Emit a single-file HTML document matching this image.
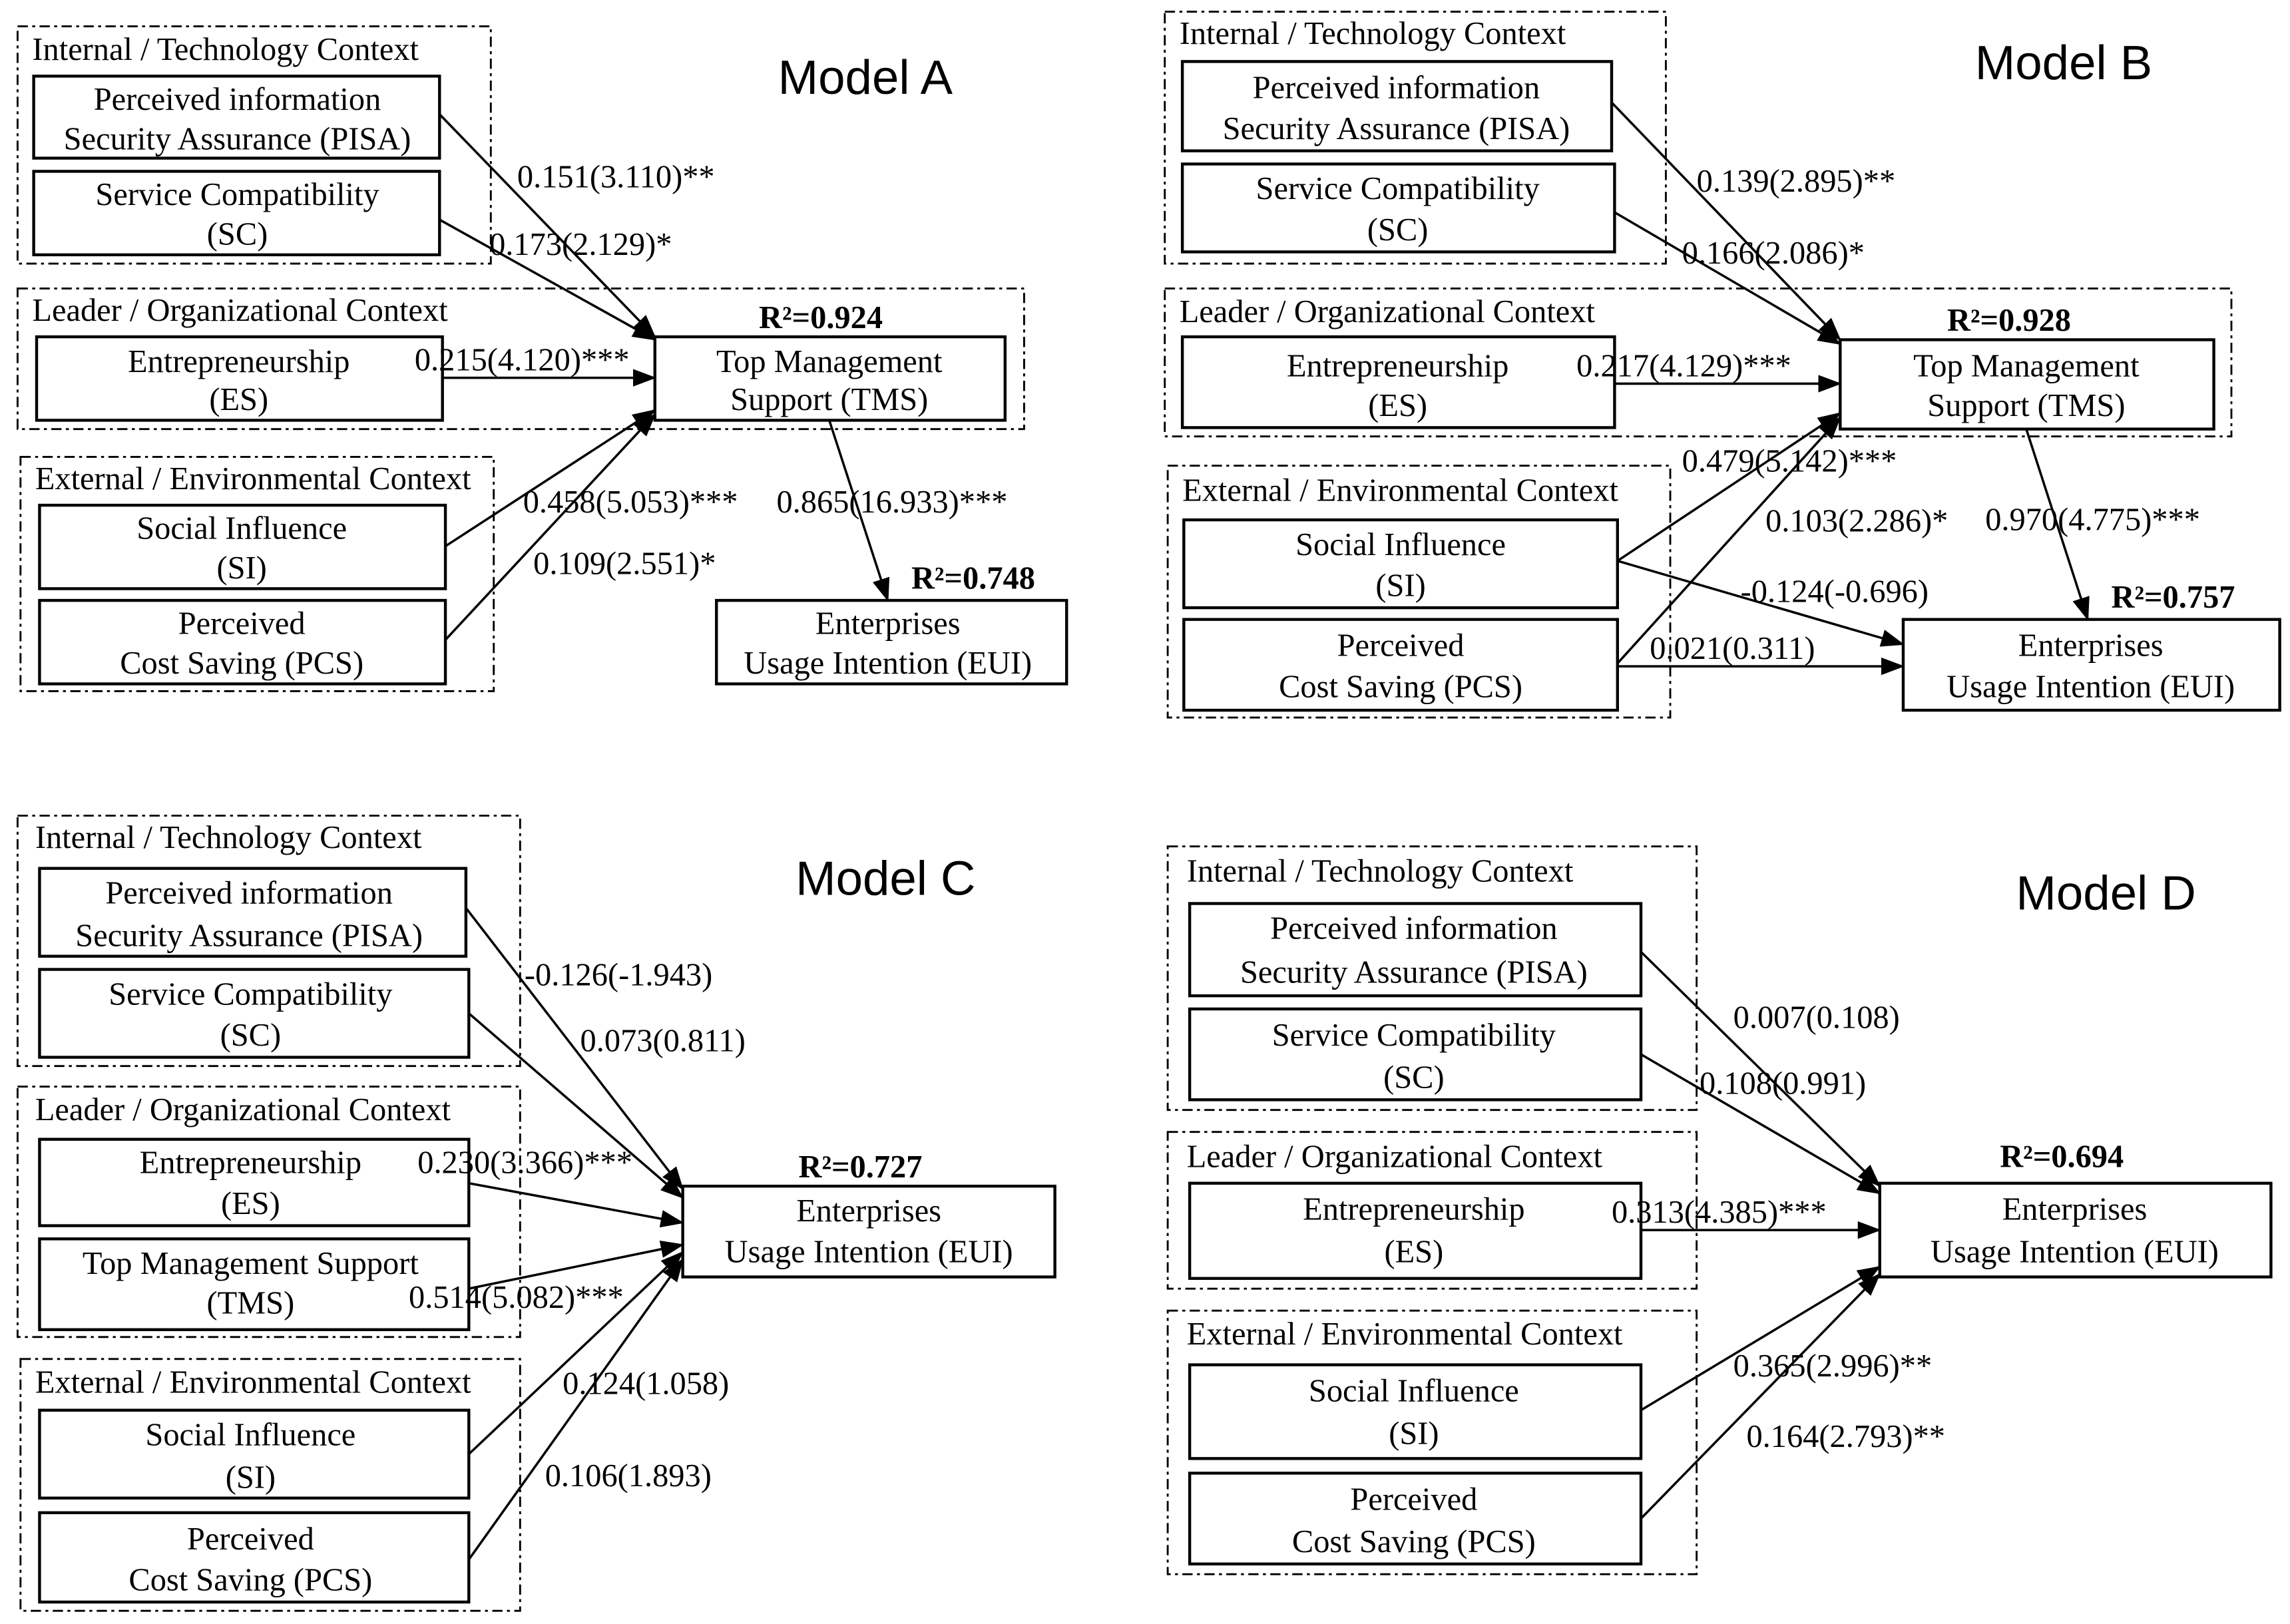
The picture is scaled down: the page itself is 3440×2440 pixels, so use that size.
<!DOCTYPE html>
<html><head><meta charset="utf-8"><style>
html,body{margin:0;padding:0;background:#fff}
svg{display:block}
text{font-family:"Liberation Serif",serif;font-size:22px;fill:#000}
.c{text-anchor:middle}
.t{font-family:"Liberation Sans",sans-serif;font-size:33px}
.r{font-weight:bold;font-size:22px}
.g{fill:none;stroke:#000;stroke-width:1.3;stroke-dasharray:7 3 2 3}
.b{fill:#fff;stroke:#000;stroke-width:2}
.a{stroke:#000;stroke-width:1.6;marker-end:url(#ar)}
</style></head><body>
<svg width="3440" height="2440" viewBox="0 0 1563 1109" preserveAspectRatio="none">
<defs><marker id="ar" markerWidth="16" markerHeight="12" refX="15" refY="6" orient="auto" markerUnits="userSpaceOnUse"><path d="M0,0 L16,6 L0,12 z" fill="#000"/></marker></defs>
<rect width="1563" height="1109" fill="#fff"/>

<!-- Model A -->
<rect class="g" x="12" y="18" width="323" height="162"/>
<rect class="g" x="12" y="197" width="687" height="96"/>
<rect class="g" x="14" y="312" width="323" height="160"/>
<text x="22" y="41">Internal / Technology Context</text>
<text x="22" y="219">Leader / Organizational Context</text>
<text x="24" y="334">External / Environmental Context</text>
<text class="t" x="531" y="64">Model A</text>
<rect class="b" x="23" y="52" width="277" height="56"/>
<text class="c" x="162" y="75">Perceived information</text><text class="c" x="162" y="102">Security Assurance (PISA)</text>
<rect class="b" x="23" y="117" width="277" height="57"/>
<text class="c" x="162" y="140">Service Compatibility</text><text class="c" x="162" y="167">(SC)</text>
<rect class="b" x="25" y="230" width="277" height="57"/>
<text class="c" x="163" y="254">Entrepreneurship</text><text class="c" x="163" y="280">(ES)</text>
<rect class="b" x="447" y="230" width="239" height="57"/>
<text class="c" x="566" y="254">Top Management</text><text class="c" x="566" y="280">Support (TMS)</text>
<text class="r" x="518" y="224">R²=0.924</text>
<rect class="b" x="27" y="345" width="277" height="57"/>
<text class="c" x="165" y="368">Social Influence</text><text class="c" x="165" y="395">(SI)</text>
<rect class="b" x="27" y="410" width="277" height="57"/>
<text class="c" x="165" y="433">Perceived</text><text class="c" x="165" y="460">Cost Saving (PCS)</text>
<rect class="b" x="489" y="410" width="239" height="57"/>
<text class="c" x="606" y="433">Enterprises</text><text class="c" x="606" y="460">Usage Intention (EUI)</text>
<text class="r" x="622" y="402">R²=0.748</text>
<line class="a" x1="300" y1="78" x2="447" y2="230"/>
<line class="a" x1="300" y1="150" x2="447" y2="232"/>
<line class="a" x1="302" y1="258" x2="447" y2="258"/>
<line class="a" x1="304" y1="373" x2="447" y2="280"/>
<line class="a" x1="304" y1="437" x2="447" y2="283"/>
<line class="a" x1="566" y1="287" x2="606" y2="410"/>
<text x="353" y="128">0.151(3.110)**</text>
<text x="334" y="174">0.173(2.129)*</text>
<text x="283" y="253">0.215(4.120)***</text>
<text x="357" y="350">0.458(5.053)***</text>
<text x="364" y="392">0.109(2.551)*</text>
<text x="530" y="350">0.865(16.933)***</text>

<!-- Model B -->
<rect class="g" x="795" y="8" width="342" height="172"/>
<rect class="g" x="795" y="197" width="728" height="101"/>
<rect class="g" x="797" y="318" width="343" height="172"/>
<text x="805" y="30">Internal / Technology Context</text>
<text x="805" y="220">Leader / Organizational Context</text>
<text x="807" y="342">External / Environmental Context</text>
<text class="t" x="1348" y="54">Model B</text>
<rect class="b" x="807" y="42" width="293" height="61"/>
<text class="c" x="953" y="67">Perceived information</text><text class="c" x="953" y="95">Security Assurance (PISA)</text>
<rect class="b" x="807" y="112" width="295" height="60"/>
<text class="c" x="954" y="136">Service Compatibility</text><text class="c" x="954" y="164">(SC)</text>
<rect class="b" x="807" y="230" width="295" height="62"/>
<text class="c" x="954" y="257">Entrepreneurship</text><text class="c" x="954" y="284">(ES)</text>
<rect class="b" x="1256" y="232" width="255" height="61"/>
<text class="c" x="1383" y="257">Top Management</text><text class="c" x="1383" y="284">Support (TMS)</text>
<text class="r" x="1329" y="226">R²=0.928</text>
<rect class="b" x="808" y="355" width="296" height="60"/>
<text class="c" x="956" y="379">Social Influence</text><text class="c" x="956" y="407">(SI)</text>
<rect class="b" x="808" y="423" width="296" height="62"/>
<text class="c" x="956" y="448">Perceived</text><text class="c" x="956" y="476">Cost Saving (PCS)</text>
<rect class="b" x="1299" y="423" width="257" height="62"/>
<text class="c" x="1427" y="448">Enterprises</text><text class="c" x="1427" y="476">Usage Intention (EUI)</text>
<text class="r" x="1441" y="415">R²=0.757</text>
<line class="a" x1="1100" y1="70" x2="1256" y2="232"/>
<line class="a" x1="1102" y1="145" x2="1256" y2="235"/>
<line class="a" x1="1102" y1="262" x2="1256" y2="262"/>
<line class="a" x1="1104" y1="383" x2="1256" y2="282"/>
<line class="a" x1="1104" y1="453" x2="1256" y2="285"/>
<line class="a" x1="1104" y1="383" x2="1299" y2="440"/>
<line class="a" x1="1104" y1="455" x2="1299" y2="455"/>
<line class="a" x1="1383" y1="293" x2="1425" y2="423"/>
<text x="1158" y="131">0.139(2.895)**</text>
<text x="1148" y="180">0.166(2.086)*</text>
<text x="1076" y="257">0.217(4.129)***</text>
<text x="1148" y="322">0.479(5.142)***</text>
<text x="1205" y="363">0.103(2.286)*</text>
<text x="1188" y="411">-0.124(-0.696)</text>
<text x="1126" y="450">0.021(0.311)</text>
<text x="1355" y="362">0.970(4.775)***</text>

<!-- Model C -->
<rect class="g" x="12" y="557" width="343" height="171"/>
<rect class="g" x="12" y="742" width="343" height="171"/>
<rect class="g" x="14" y="928" width="341" height="172"/>
<text x="24" y="579">Internal / Technology Context</text>
<text x="24" y="765">Leader / Organizational Context</text>
<text x="24" y="951">External / Environmental Context</text>
<text class="t" x="543" y="611">Model C</text>
<rect class="b" x="27" y="593" width="291" height="60"/>
<text class="c" x="170" y="617">Perceived information</text><text class="c" x="170" y="646">Security Assurance (PISA)</text>
<rect class="b" x="27" y="662" width="293" height="60"/>
<text class="c" x="171" y="686">Service Compatibility</text><text class="c" x="171" y="714">(SC)</text>
<rect class="b" x="27" y="778" width="293" height="59"/>
<text class="c" x="171" y="801">Entrepreneurship</text><text class="c" x="171" y="829">(ES)</text>
<rect class="b" x="27" y="846" width="293" height="62"/>
<text class="c" x="171" y="870">Top Management Support</text><text class="c" x="171" y="897">(TMS)</text>
<rect class="b" x="27" y="963" width="293" height="60"/>
<text class="c" x="171" y="987">Social Influence</text><text class="c" x="171" y="1016">(SI)</text>
<rect class="b" x="27" y="1033" width="293" height="61"/>
<text class="c" x="171" y="1058">Perceived</text><text class="c" x="171" y="1086">Cost Saving (PCS)</text>
<rect class="b" x="466" y="810" width="254" height="62"/>
<text class="c" x="593" y="834">Enterprises</text><text class="c" x="593" y="862">Usage Intention (EUI)</text>
<text class="r" x="545" y="804">R²=0.727</text>
<line class="a" x1="318" y1="620" x2="466" y2="812"/>
<line class="a" x1="320" y1="692" x2="466" y2="818"/>
<line class="a" x1="320" y1="808" x2="466" y2="835"/>
<line class="a" x1="320" y1="880" x2="466" y2="850"/>
<line class="a" x1="320" y1="993" x2="466" y2="855"/>
<line class="a" x1="320" y1="1065" x2="466" y2="860"/>
<text x="358" y="673">-0.126(-1.943)</text>
<text x="396" y="718">0.073(0.811)</text>
<text x="285" y="801">0.230(3.366)***</text>
<text x="279" y="893">0.514(5.082)***</text>
<text x="384" y="952">0.124(1.058)</text>
<text x="372" y="1015">0.106(1.893)</text>

<!-- Model D -->
<rect class="g" x="797" y="578" width="361" height="180"/>
<rect class="g" x="797" y="773" width="361" height="107"/>
<rect class="g" x="797" y="895" width="361" height="180"/>
<text x="810" y="602">Internal / Technology Context</text>
<text x="810" y="797">Leader / Organizational Context</text>
<text x="810" y="918">External / Environmental Context</text>
<text class="t" x="1376" y="621">Model D</text>
<rect class="b" x="812" y="617" width="308" height="63"/>
<text class="c" x="965" y="641">Perceived information</text><text class="c" x="965" y="671">Security Assurance (PISA)</text>
<rect class="b" x="812" y="689" width="308" height="62"/>
<text class="c" x="965" y="714">Service Compatibility</text><text class="c" x="965" y="743">(SC)</text>
<rect class="b" x="812" y="808" width="308" height="65"/>
<text class="c" x="965" y="833">Entrepreneurship</text><text class="c" x="965" y="862">(ES)</text>
<rect class="b" x="812" y="932" width="308" height="64"/>
<text class="c" x="965" y="957">Social Influence</text><text class="c" x="965" y="986">(SI)</text>
<rect class="b" x="812" y="1006" width="308" height="62"/>
<text class="c" x="965" y="1031">Perceived</text><text class="c" x="965" y="1060">Cost Saving (PCS)</text>
<rect class="b" x="1283" y="808" width="267" height="64"/>
<text class="c" x="1416" y="833">Enterprises</text><text class="c" x="1416" y="862">Usage Intention (EUI)</text>
<text class="r" x="1365" y="797">R²=0.694</text>
<line class="a" x1="1120" y1="650" x2="1283" y2="810"/>
<line class="a" x1="1120" y1="720" x2="1283" y2="815"/>
<line class="a" x1="1120" y1="840" x2="1283" y2="840"/>
<line class="a" x1="1120" y1="963" x2="1283" y2="865"/>
<line class="a" x1="1120" y1="1037" x2="1283" y2="870"/>
<text x="1183" y="702">0.007(0.108)</text>
<text x="1160" y="747">0.108(0.991)</text>
<text x="1100" y="835">0.313(4.385)***</text>
<text x="1183" y="940">0.365(2.996)**</text>
<text x="1192" y="988">0.164(2.793)**</text>
</svg>
</body></html>
